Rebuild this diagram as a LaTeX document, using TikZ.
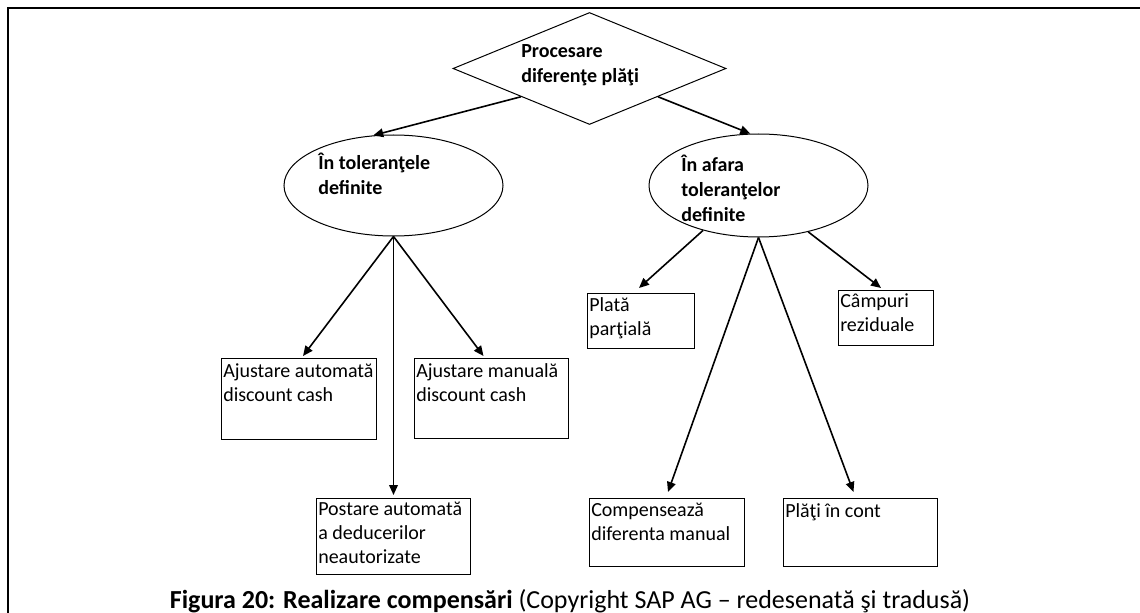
\documentclass[tikz,border=0pt]{standalone}
\usepackage{fontspec}
\setmainfont{Carlito}
\usetikzlibrary{shapes.geometric,arrows.meta,calc}

\begin{document}
\begin{tikzpicture}[x=0.75pt,y=-0.75pt,
  outline/.style={draw=black,line width=0.75pt},
  arr/.style={draw=black,line width=1.2pt,-{Triangle[length=7.5pt,width=6.5pt]}},
  boxtxt/.style={anchor=north west,inner sep=0pt,align=left,font=\fontsize{15}{18}\selectfont},
  headtxt/.style={anchor=north west,inner sep=0pt,align=left,font=\bfseries\fontsize{15}{18.7}\selectfont},
  bx/.style 2 args={outline,rectangle,inner sep=0pt,anchor=north west,
    minimum width=#1*0.75pt,minimum height=#2*0.75pt}
]
\useasboundingbox (0,0) rectangle (1140,613);
% page frame
\draw[line width=1.6pt] (8,613) -- (8,8) -- (1140,8);

% decision and the two branches
\node[outline,diamond,inner sep=0pt,minimum width=273*0.75pt,minimum height=112*0.75pt] (d) at (589.5,68.5) {};
\node[headtxt] (dt) at (521,44) {Procesare\\diferenţe plăţi};

\node[outline,ellipse,inner sep=0pt,minimum width=219*0.75pt,minimum height=101*0.75pt] (eL) at (393.5,185.5) {};
\node[headtxt] (eLt) at (318,153) {În toleranţele\\definite};

\node[outline,ellipse,inner sep=0pt,minimum width=219*0.75pt,minimum height=103*0.75pt] (eR) at (758.5,185.5) {};
\node[headtxt] (eRt) at (681,155) {În afara\\toleranţelor\\definite};

% outcome boxes
\node[bx={155}{81}] (b1) at (221,358) {};
\node[boxtxt] (b1t) at ($(b1.north west)+(2,5)$) {Ajustare automată\\discount cash};
\node[bx={154}{80}] (b2) at (414,358) {};
\node[boxtxt] (b2t) at ($(b2.north west)+(2,5)$) {Ajustare manuală\\discount cash};
\node[bx={154}{76}] (b3) at (316,498) {};
\node[boxtxt] (b3t) at ($(b3.north west)+(2,4)$) {Postare automată\\a deducerilor\\neautorizate};

\node[bx={107}{55}] (c1) at (587,293) {};
\node[boxtxt] (c1t) at ($(c1.north west)+(2,4)$) {Plată\\parţială};
\node[bx={95}{55}] (c2) at (838,290) {};
\node[boxtxt] (c2t) at ($(c2.north west)+(2,3)$) {Câmpuri\\reziduale};
\node[bx={155}{68}] (c3) at (589,498) {};
\node[boxtxt] (c3t) at ($(c3.north west)+(2,5)$) {Compensează\\diferenta manual};
\node[bx={154}{68}] (c4) at (783,498) {};
\node[boxtxt] (c4t) at ($(c4.north west)+(2,5)$) {Plăţi în cont};

% connectors
\draw[arr] (d.south west) -- (eL.112);
\draw[arr] (d.south east) -- (eR.99);
\draw[arr] (eL.south) -- ($(b1.north)+(4,-2)$);
\draw[arr] (eL.south) -- ($(b2.north)+(-8,-2)$);
\draw[arr] (eL.south) -- ($(b3.north)+(0,-3)$);
\draw[arr] (eR.219) -- ($(c1.north)+(-2,-5)$);
\draw[arr] (eR.317) -- ($(c2.north)+(-5,-2)$);
\draw[arr] (eR.south) -- ($(c3.north)+(1,-6)$);
\draw[arr] (eR.south) -- ($(c4.north)+(-7,-6)$);

% caption
\node[anchor=base,inner sep=0pt,font=\fontsize{19.5}{23}\selectfont] (cap) at (570,608)
  {\textbf{Figura 20: Realizare compensări} (Copyright SAP AG – redesenată şi tradusă)};
\end{tikzpicture}
\end{document}
